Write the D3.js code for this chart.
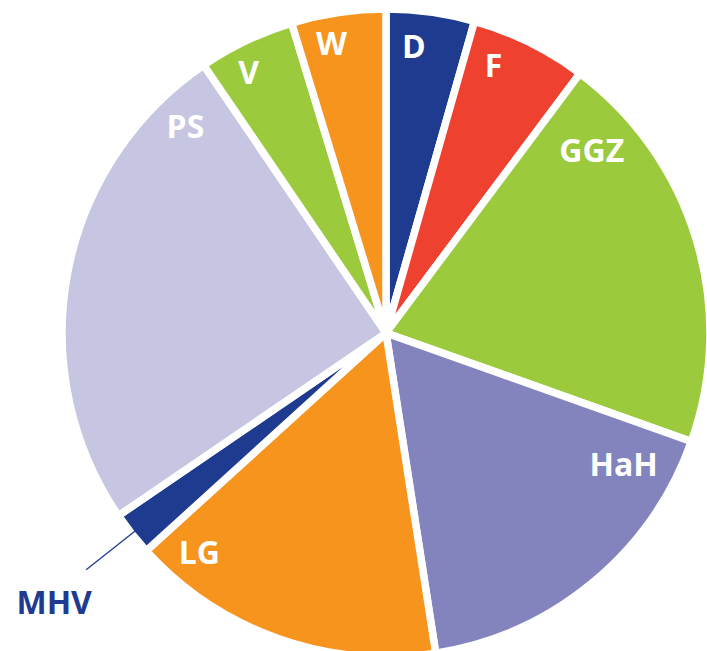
<!DOCTYPE html>
<html lang="nl">
<head>
    <meta charset="UTF-8">
    <title>Pie</title>
    <script src="https://d3js.org/d3.v7.min.js"></script>
    <style>
        body{ margin:0; background:#fff; overflow:hidden; }
        svg{ display:block; }
        .lbl{ font-family:"Open Sans", sans-serif; font-weight:700; font-size:32px; fill:#fff; }
    </style>
</head>
<body>
<script>
    // slices, clockwise from 12 o'clock (percent)
    const categories = ["D","F","GGZ","HaH","LG","MHV","PS","V","W"]
    const values     = [4.4, 5.8, 20.2, 17.1, 15.7, 2.2, 25.0, 4.8, 4.7]
    const colors     = ["#1f3b8f","#ef4130","#9bca3c","#8384bd","#f7941d","#1f3b8f","#c6c6e2","#9bca3c","#f7941d"]
    // where each label sits inside its slice: fraction of the slice angle, radius fraction
    const labelPos   = [[0.35,0.9],[0.29,0.9],[0.16,0.86],[0.155,0.85],[0.87,0.9],[0.5,0],[0.89,0.9],[0.37,0.92],[0.37,0.92]]

    const width = 707, height = 651
    const cx = 386, cy = 333, r = 324, rl = 320   // rl: visible radius, used for labels

    const svg = d3.select("body").append("svg")
        .attr("width", width).attr("height", height)
    const g = svg.append("g").attr("transform", `translate(${cx},${cy})`)

    const data = categories.map((c,i)=> ({name:c, value:values[i], color:colors[i], pos:labelPos[i]}))
    const pie = d3.pie().sort(null).value(d=> d.value)
    const arcs = pie(data)
    const arc = d3.arc().innerRadius(0).outerRadius(r)

    g.selectAll("path.slice").data(arcs).join("path")
        .attr("class","slice")
        .attr("d", arc)
        .attr("fill", d=> d.data.color)
        .attr("stroke","#fff")
        .attr("stroke-width",7.5)
        .attr("stroke-linejoin","round")

    const polar = (a, rad)=> [Math.sin(a)*rad, -Math.cos(a)*rad]

    // labels inside slices
    g.selectAll("text.lbl").data(arcs.filter(d=> d.data.name!=="MHV")).join("text")
        .attr("class","lbl")
        .attr("text-anchor","middle")
        .attr("dy","0.35em")
        .attr("transform", d=>{
            const span = d.endAngle - d.startAngle
            const a = d.startAngle + d.data.pos[0]*span
            const p = polar(a, rl*d.data.pos[1])
            return `translate(${p[0]},${p[1]})`
        })
        .text(d=> d.data.name)

    // outside label for the small slice
    const small = arcs.find(d=> d.data.name==="MHV")
    const mid = (small.startAngle + small.endAngle)/2
    const p0 = polar(mid, rl - 4), p1 = polar(mid, rl + 62)
    g.append("line")
        .attr("x1",p0[0]).attr("y1",p0[1]).attr("x2",p1[0]).attr("y2",p1[1])
        .attr("stroke","#1f3b8f").attr("stroke-width",1.3)
    g.append("text")
        .attr("class","lbl")
        .attr("x", p1[0]-32).attr("y", p1[1]+44)
        .attr("text-anchor","middle")
        .style("fill","#1f3b8f")
        .text("MHV")
</script>
</body>
</html>
